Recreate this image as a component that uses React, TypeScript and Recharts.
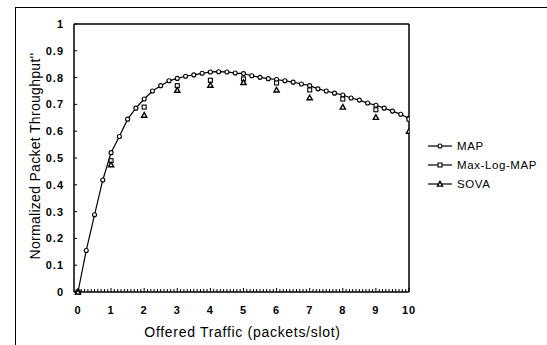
import React from 'react';
import { ComposedChart, Line, XAxis, YAxis, ReferenceLine, Legend } from 'recharts';

const mapX = [0, 0.25, 0.5, 0.75, 1, 1.25, 1.5, 1.75, 2, 2.25, 2.5, 2.75, 3, 3.25, 3.5, 3.75, 4, 4.25, 4.5, 4.75, 5, 5.25, 5.5, 5.75, 6, 6.25, 6.5, 6.75, 7, 7.25, 7.5, 7.75, 8, 8.25, 8.5, 8.75, 9, 9.25, 9.5, 9.75, 10];
const mapY = [0, 0.155, 0.288, 0.418, 0.52, 0.58, 0.645, 0.686, 0.72, 0.75, 0.77, 0.788, 0.797, 0.805, 0.81, 0.816, 0.821, 0.822, 0.821, 0.817, 0.815, 0.807, 0.801, 0.796, 0.793, 0.788, 0.783, 0.776, 0.77, 0.758, 0.75, 0.742, 0.735, 0.724, 0.716, 0.705, 0.697, 0.686, 0.675, 0.663, 0.648];
const simX = [0, 1, 2, 3, 4, 5, 6, 7, 8, 9, 10];
const maxLogY = [0, 0.49, 0.69, 0.77, 0.79, 0.795, 0.78, 0.754, 0.72, 0.68, 0.645];
const sovaY = [0, 0.475, 0.66, 0.753, 0.772, 0.782, 0.754, 0.725, 0.69, 0.652, 0.6];
const xLabels = [0, 1, 2, 3, 4, 5, 6, 7, 8, 9, 10];
const yLabels = [0, 0.1, 0.2, 0.3, 0.4, 0.5, 0.6, 0.7, 0.8, 0.9, 1];
const seriesNames = ['MAP', 'Max-Log-MAP', 'SOVA'];
const xTitle = 'Offered Traffic (packets/slot)';
const yTitle = "Normalized Packet Throughput''";

const xMinorTicks = Array.from({ length: 101 }, (_, i) => i / 10);

const mapData = mapX.map((x, i) => ({ x, y: mapY[i] }));
const maxLogData = simX.map((x, i) => ({ x, y: maxLogY[i] }));
const sovaData = simX.map((x, i) => ({ x, y: sovaY[i] }));

const FONT = '"Liberation Sans", Arial, sans-serif';

const CircleDot = (p: any) => {
  if (p.cx == null || p.cy == null) return null;
  return <circle cx={p.cx} cy={p.cy} r={2} fill="#fff" stroke="#000" strokeWidth={1.1} />;
};
const SquareDot = (p: any) => {
  if (p.cx == null || p.cy == null) return null;
  return <rect x={p.cx - 2} y={p.cy - 2} width={4} height={4} fill="#fff" stroke="#000" strokeWidth={1.1} />;
};
const TriDot = (p: any) => {
  if (p.cx == null || p.cy == null) return null;
  const s = 2.6;
  return (
    <polygon
      points={`${p.cx},${p.cy - s} ${p.cx - s},${p.cy + s * 0.8} ${p.cx + s},${p.cy + s * 0.8}`}
      fill="#fff"
      stroke="#000"
      strokeWidth={1.4}
    />
  );
};

const XTick = (props: any) => {
  const { x, y, payload } = props;
  const v = payload.value;
  const major = Math.abs(v - Math.round(v)) < 1e-6;
  return (
    <g>
      <line x1={x} x2={x} y1={y} y2={y - (major ? 4 : 3)} stroke="#000" strokeWidth={1} />
      {major && xLabels.includes(Math.round(v)) && (
        <text x={x} y={y + 22} textAnchor="middle" fontSize={11} fontWeight="bold" letterSpacing={1} fontFamily={FONT} fill="#000">
          {Math.round(v)}
        </text>
      )}
    </g>
  );
};

const YTick = (props: any) => {
  const { x, y, payload } = props;
  const v = payload.value;
  return (
    <g>
      <line x1={x} x2={x + 3} y1={y} y2={y} stroke="#000" strokeWidth={1} />
      <text x={x - 10} y={y + 4} textAnchor="end" fontSize={11} fontWeight="bold" letterSpacing={1} fontFamily={FONT} fill="#000">
        {v === 0 || v === 1 ? String(v) : v.toFixed(1)}
      </text>
    </g>
  );
};

const markers = [CircleDot, SquareDot, TriDot];

const renderLegend = () => (
  <svg width={122} height={60}>
    {seriesNames.map((n, i) => {
      const yy = 11 + i * 19;
      const M = markers[i];
      return (
        <g key={n}>
          <line x1={3} x2={27} y1={yy} y2={yy} stroke="#000" strokeWidth={1.2} />
          <M cx={15} cy={yy} />
          <text x={32} y={yy + 4} fontSize={11.5} letterSpacing={0.6} fontFamily={FONT} fill="#000">{n}</text>
        </g>
      );
    })}
  </svg>
);

const YTitle = (props: any) => {
  const vb = props.viewBox;
  const cx = vb.x + 35;
  const cy = vb.y + vb.height / 2 - 2;
  return (
    <text x={cx} y={cy} transform={`rotate(-90 ${cx} ${cy})`} textAnchor="middle" dominantBaseline="central" fontSize={14} letterSpacing={0.3} fontFamily={FONT} fill="#000">
      {yTitle}
    </text>
  );
};

const XTitle = (props: any) => {
  const vb = props.viewBox;
  const cx = vb.x + vb.width / 2 + 1;
  const cy = vb.y + 45;
  return (
    <text x={cx} y={cy} textAnchor="middle" fontSize={14} letterSpacing={0.7} fontFamily={FONT} fill="#000">
      {xTitle}
    </text>
  );
};

export default function App() {
  return (
    <div style={{ position: 'absolute', left: 0, top: 0, width: 547, height: 345, background: '#fff' }}>
      <div
        style={{
          position: 'absolute',
          left: 15,
          top: 7,
          width: 532,
          height: 338,
          borderTop: '1.5px solid #000',
          borderLeft: '1px solid #000',
          boxSizing: 'border-box',
        }}
      />
      <div style={{ position: 'absolute', left: 0, top: 0 }}>
        <ComposedChart width={547} height={345} margin={{ top: 24, right: 138, bottom: 0, left: 0 }}>
          <XAxis
            type="number"
            dataKey="x"
            domain={[-0.12, 10]}
            ticks={xMinorTicks}
            interval={0}
            tickSize={0}
            tickMargin={0}
            tick={<XTick />}
            height={53}
            axisLine={{ stroke: '#000', strokeWidth: 1.5 }}
            tickLine={false}
            allowDataOverflow
            label={<XTitle />}
          />
          <YAxis
            type="number"
            dataKey="y"
            domain={[0, 1]}
            ticks={yLabels}
            interval={0}
            tickSize={0}
            tickMargin={0}
            tick={<YTick />}
            width={74}
            axisLine={{ stroke: '#000', strokeWidth: 1.5 }}
            tickLine={false}
            label={<YTitle />}
          />
          <ReferenceLine y={1} stroke="#000" strokeWidth={1.5} />
          <ReferenceLine x={10} stroke="#000" strokeWidth={1.5} />
          <Line data={mapData} dataKey="y" name="MAP" stroke="#000" strokeWidth={1.2} dot={<CircleDot />} isAnimationActive={false} />
          <Line data={maxLogData} dataKey="y" name="Max-Log-MAP" stroke="none" dot={<SquareDot />} isAnimationActive={false} />
          <Line data={sovaData} dataKey="y" name="SOVA" stroke="none" dot={<TriDot />} isAnimationActive={false} />
          <Legend
            layout="vertical"
            align="center"
            verticalAlign="middle"
            content={renderLegend}
            wrapperStyle={{ position: 'absolute', left: 425, top: 135, width: 122, height: 60 }}
          />
        </ComposedChart>
      </div>
    </div>
  );
}
